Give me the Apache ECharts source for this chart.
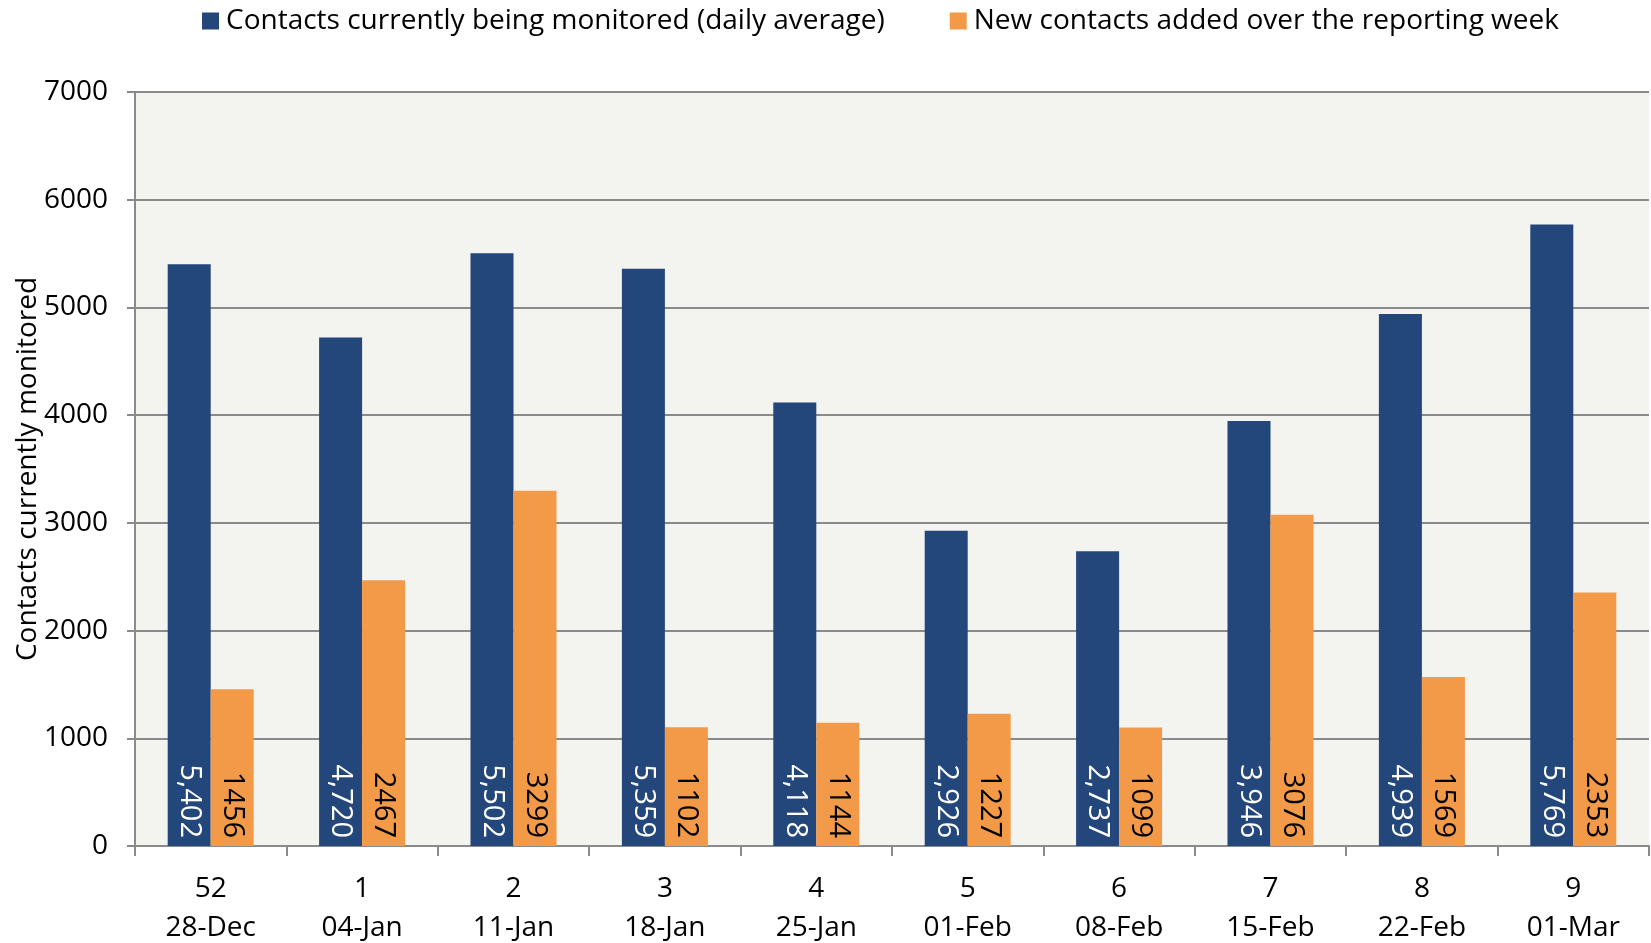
<!DOCTYPE html>
<html>
<head>
<meta charset="utf-8">
<script src="https://cdn.jsdelivr.net/npm/echarts@6/dist/echarts.min.js"></script>
<style>
html,body{margin:0;padding:0;background:#fff;}
#chart{width:1651px;height:943px;}
</style>
</head>
<body>
<div id="chart"></div>
<script>
const weeks = ['52','1','2','3','4','5','6','7','8','9'];
const dates = ['28-Dec','04-Jan','11-Jan','18-Jan','25-Jan','01-Feb','08-Feb','15-Feb','22-Feb','01-Mar'];
const monitored = [5402, 4720, 5502, 5359, 4118, 2926, 2737, 3946, 4939, 5769];
const newContacts = [1456, 2467, 3299, 1102, 1144, 1227, 1099, 3076, 1569, 2353];
const yTicks = { min: 0, max: 7000, interval: 1000 };
const seriesNames = ['Contacts currently being monitored (daily average)', 'New contacts added over the reporting week'];
const yTitle = 'Contacts currently monitored';

const categories = weeks.map((w, i) => w + '\n' + dates[i]);
const FONT = '"Open Sans", sans-serif';
const chart = echarts.init(document.getElementById('chart'), null, {renderer: 'canvas'});
const labelBase = {
  show: true, position: 'insideBottom', rotate: -90, align: 'right', verticalAlign: 'middle',
  distance: 8, fontSize: 29, fontFamily: FONT
};
chart.setOption({
  animation: false,
  backgroundColor: '#ffffff',
  textStyle: { fontFamily: FONT },
  legend: {
    data: seriesNames,
    left: 197, top: 2,
    itemWidth: 17, itemHeight: 17, itemGap: 65,
    icon: 'rect',
    textStyle: { fontSize: 28, color: '#000', fontFamily: FONT, padding: [0, 0, 0, 2] }
  },
  grid: { left: 135, right: 2, top: 92, bottom: 97, show: true, backgroundColor: '#F3F3EF', borderWidth: 0, outerBoundsMode: 'none', containLabel: false },
  xAxis: {
    type: 'category', data: categories,
    axisLine: { lineStyle: { color: '#8a8a8a', width: 2 } },
    axisTick: { show: true, length: 10, lineStyle: { color: '#8a8a8a', width: 2 } },
    axisLabel: { color: '#000', fontSize: 28, lineHeight: 39, margin: 24, fontFamily: FONT, interval: 0 },
    splitLine: { show: false }
  },
  yAxis: {
    type: 'value', min: yTicks.min, max: yTicks.max, interval: yTicks.interval,
    name: yTitle, nameLocation: 'middle', nameGap: 93, nameMoveOverlap: false,
    nameTextStyle: { fontSize: 28, color: '#000', fontFamily: FONT },
    axisLine: { show: true, lineStyle: { color: '#8a8a8a', width: 2 } },
    axisTick: { show: true, length: 8, lineStyle: { color: '#8a8a8a', width: 2 } },
    axisLabel: { color: '#000', fontSize: 28, margin: 27, fontFamily: FONT, formatter: v => String(v) },
    splitLine: { lineStyle: { color: '#8a8a8a', width: 2 } }
  },
  series: [
    {
      name: seriesNames[0], type: 'bar', data: monitored,
      barWidth: 43, barGap: '0%',
      itemStyle: { color: '#23477A' },
      label: Object.assign({}, labelBase, { color: '#ffffff', formatter: p => p.value.toLocaleString('en-US') })
    },
    {
      name: seriesNames[1], type: 'bar', data: newContacts,
      barWidth: 43, barGap: '0%',
      itemStyle: { color: '#F39A48' },
      label: Object.assign({}, labelBase, { color: '#000000', formatter: p => String(p.value) })
    }
  ]
});
</script>
</body>
</html>
